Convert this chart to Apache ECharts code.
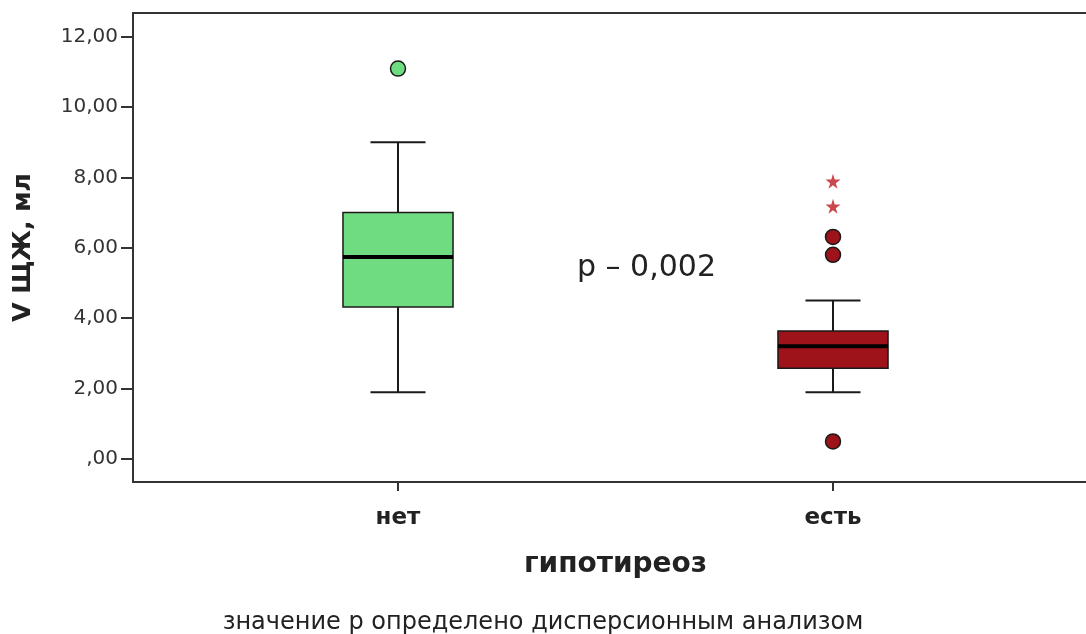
<!DOCTYPE html>
<html>
<head>
<meta charset="utf-8">
<script src="https://cdn.jsdelivr.net/npm/echarts@6/dist/echarts.min.js"></script>
<style>
  html, body { margin: 0; padding: 0; background: #fff; }
  #chart { width: 1086px; height: 634px; }
</style>
</head>
<body>
<div id="chart"></div>
<script>
// Groups on the horizontal axis
const categories = ['нет', 'есть'];

// Box-and-whisker summary per group (V ЩЖ, мл)
const lowerWhisker = [1.90, 1.90];
const quartile1 = [4.32, 2.58];
const medians = [5.74, 3.20];
const quartile3 = [7.00, 3.64];
const upperWhisker = [9.00, 4.50];

// Outliers (circles) and extreme values (stars)
const outlierGroup = [0, 1, 1, 1];
const outlierValue = [11.09, 6.31, 5.80, 0.50];
const extremeGroup = [1, 1];
const extremeValue = [7.89, 7.18];

// Value axis ticks and their labels
const yTicks = [0, 2, 4, 6, 8, 10, 12];
const yTickLabels = [',00', '2,00', '4,00', '6,00', '8,00', '10,00', '12,00'];

const boxColors = ['#70dc82', '#9e1319'];
const pValueText = 'p – 0,002';
const footnote = 'значение р определено дисперсионным анализом';

const Y_MIN = -0.653, Y_MAX = 12.67;
const FONT = '"DejaVu Sans", "Liberation Sans", sans-serif';

const boxData = categories.map((c, i) => [i, lowerWhisker[i], quartile1[i], medians[i], quartile3[i], upperWhisker[i]]);
const outlierData = outlierGroup.map((g, i) => ({ value: [g, outlierValue[i]], itemStyle: { color: boxColors[g] } }));
const extremeData = extremeGroup.map((g, i) => [g, extremeValue[i]]);

const starPath = 'path://M50,0 L61,35 L98,35 L68,57 L79,91 L50,70 L21,91 L32,57 L2,35 L39,35 Z';

const chart = echarts.init(document.getElementById('chart'), null, { renderer: 'canvas' });

chart.setOption({
  backgroundColor: '#ffffff',
  animation: false,
  grid: [
    // frame with the value axis
    { left: 133, top: 13, right: -30, bottom: 152, outerBoundsMode: 'none', containLabel: false,
      show: true, borderColor: '#333', borderWidth: 2, backgroundColor: 'transparent' },
    // area where the groups are placed
    { left: 180.5, top: 13, right: 35.5, bottom: 152, outerBoundsMode: 'none', containLabel: false }
  ],
  xAxis: [
    { type: 'value', gridIndex: 0, show: false, min: 0, max: 1 },
    {
      type: 'category', gridIndex: 1, data: categories, boundaryGap: true, position: 'bottom',
      axisLine: { show: false, onZero: false },
      axisTick: { show: true, alignWithLabel: true, length: 9, lineStyle: { color: '#333', width: 2 } },
      axisLabel: { margin: 25, color: '#222', fontFamily: FONT, fontWeight: 'bold', fontSize: 23 },
      name: 'гипотиреоз', nameLocation: 'middle', nameGap: 69,
      nameTextStyle: { color: '#222', fontFamily: FONT, fontWeight: 'bold', fontSize: 28 },
      splitLine: { show: false }
    }
  ],
  yAxis: [
    {
      type: 'value', gridIndex: 0, min: Y_MIN, max: Y_MAX,
      axisLine: { show: false },
      axisTick: { show: true, length: 12, customValues: yTicks, lineStyle: { color: '#333', width: 2 } },
      axisLabel: {
        customValues: yTicks, margin: 15, color: '#333', fontFamily: FONT, fontSize: 20,
        formatter: v => yTickLabels[yTicks.indexOf(v)] || ''
      },
      splitLine: { show: false },
      name: 'V ЩЖ, мл', nameLocation: 'middle', nameGap: 97,
      nameTextStyle: { color: '#222', fontFamily: FONT, fontWeight: 'bold', fontSize: 25 }
    },
    { type: 'value', gridIndex: 1, min: Y_MIN, max: Y_MAX, show: false, splitLine: { show: false } }
  ],
  series: [
    {
      type: 'custom',
      xAxisIndex: 1, yAxisIndex: 1,
      data: boxData,
      encode: { x: 0, y: [1, 2, 3, 4, 5] },
      renderItem: function (params, api) {
        const i = api.value(0);
        const x = api.coord([i, 0])[0];
        const band = api.size([1, 0])[0];
        const bw = band * 0.253;
        const cw = bw / 2;
        const yLo = api.coord([i, api.value(1)])[1];
        const yQ1 = api.coord([i, api.value(2)])[1];
        const yMed = api.coord([i, api.value(3)])[1];
        const yQ3 = api.coord([i, api.value(4)])[1];
        const yHi = api.coord([i, api.value(5)])[1];
        const line = { stroke: '#1a1a1a', lineWidth: 2 };
        return {
          type: 'group',
          children: [
            { type: 'line', shape: { x1: x, y1: yQ1, x2: x, y2: yLo }, style: line },
            { type: 'line', shape: { x1: x, y1: yQ3, x2: x, y2: yHi }, style: line },
            { type: 'line', shape: { x1: x - cw / 2, y1: yLo, x2: x + cw / 2, y2: yLo }, style: line },
            { type: 'line', shape: { x1: x - cw / 2, y1: yHi, x2: x + cw / 2, y2: yHi }, style: line },
            { type: 'rect', shape: { x: x - bw / 2, y: yQ3, width: bw, height: yQ1 - yQ3 },
              style: { fill: boxColors[i], stroke: '#1a1a1a', lineWidth: 1.5 } },
            { type: 'line', shape: { x1: x - bw / 2, y1: yMed, x2: x + bw / 2, y2: yMed },
              style: { stroke: '#000', lineWidth: 4 } }
          ]
        };
      }
    },
    {
      type: 'scatter', xAxisIndex: 1, yAxisIndex: 1,
      data: outlierData,
      symbol: 'circle', symbolSize: 15,
      itemStyle: { borderColor: '#1a1a1a', borderWidth: 1.5, opacity: 1 }
    },
    {
      type: 'scatter', xAxisIndex: 1, yAxisIndex: 1,
      data: extremeData,
      symbol: starPath, symbolSize: 15,
      itemStyle: { color: '#c9474d', opacity: 1 }
    }
  ],
  graphic: [
    { type: 'text', left: 577, top: 253,
      style: { text: pValueText, fill: '#222', font: '30px ' + FONT } },
    { type: 'text', left: 'center', top: 611,
      style: { text: footnote, fill: '#222', font: '24px ' + FONT } }
  ]
});
</script>
</body>
</html>
